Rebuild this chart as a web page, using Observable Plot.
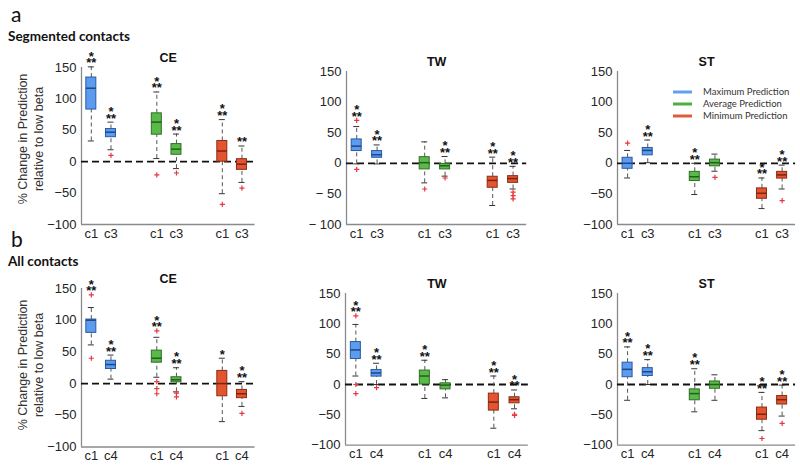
<!DOCTYPE html>
<html><head><meta charset="utf-8">
<script src="https://cdn.jsdelivr.net/npm/d3@7"></script>
<script src="https://cdn.jsdelivr.net/npm/@observablehq/plot@0.6"></script>
<style>
body{margin:0;background:#fff;}
#chart{position:relative;width:800px;height:471px;overflow:hidden;background:#fff;}
#chart svg{position:absolute;overflow:visible;}
</style></head><body><div id="chart"></div>
<script>
// ---------- data ----------
const series = ["Maximum Prediction", "Average Prediction", "Minimum Prediction"];
const panelTitles = ["CE", "TW", "ST"];
const rowTitles = ["Segmented contacts", "All contacts"];
const rowLetters = ["a", "b"];
const tickLabelsA = ["c1", "c3"];
const tickLabelsB = ["c1", "c4"];
const positions = [1, 1.3, 2, 2.3, 3, 3.3];
const yTicks = [-100, -50, 0, 50, 100, 150];
const yLabel = ["% Change in Prediction", "relative to low beta"];

// box stats per box: [lower whisker, q1, median, q3, upper whisker]
const statsACE = [[33, 83, 117, 134, 151], [19, 39, 47, 52, 63], [5, 43, 63, 77, 111], [-11, 11, 20, 28, 44], [-51, 0, 17, 33, 67], [-33, -13, -4, 4, 25]];
const outACE = [[], [10], [-21], [-18], [-68], [-42]];
const sigACE = ["***", "***", "***", "***", "***", "**"];

const statsATW = [[-1, 20, 28, 39, 60], [-1, 9, 14, 20, 30], [-32, -10, 1, 10, 35], [-21, -10, -4, -1, 11], [-69, -40, -28, -22, 10], [-42, -32, -25, -21, -5]];
const outATW = [[70, -10], [], [-42], [-24], [], [-47, -53, -58]];
const sigATW = ["***", "***", "", "***", "***", "***"];

const statsAST = [[-24, -9, 0, 9, 21], [1, 13, 21, 25, 38], [-51, -29, -22, -14, 0], [-13, -5, 1, 6, 15], [-74, -58, -49, -41, -24], [-42, -25, -19, -14, -3]];
const outAST = [[33], [], [], [-23], [], [-61]];
const sigAST = ["", "***", "***", "", "***", "***"];

const statsBCE = [[61, 80, 100, 101, 120], [7, 23, 30, 36, 45], [10, 33, 40, 52, 73], [-13, 2, 6, 10, 25], [-60, -20, 0, 20, 40], [-36, -23, -16, -10, 3]];
const outBCE = [[140, 40], [], [83, 3, -8, -16], [-15, -21], [], [-47]];
const sigBCE = ["***", "***", "***", "***", "*", "***"];

const statsBTW = [[14, 42, 57, 70, 99], [0, 13, 19, 24, 35], [-23, 0, 14, 23, 40], [-22, -8, -1, 2, 8], [-72, -43, -29, -15, 14], [-40, -31, -25, -21, -9]];
const outBTW = [[113, 0, -15], [-5], [], [], [], [-49, -51]];
const sigBTW = ["***", "***", "***", "", "***", "***"];

const statsBST = [[-26, 12, 25, 36, 62], [0, 14, 21, 27, 41], [-45, -26, -15, -8, 26], [-26, -7, 0, 5, 16], [-76, -58, -49, -38, -13], [-52, -33, -25, -19, -1]];
const outBST = [[], [], [], [], [-89], [-64]];
const sigBST = ["***", "***", "***", "", "***", "***"];

// ---------- styles ----------
const fillOf = ["#5b9cf0", "#5ab948", "#e4542f"];
const edgeOf = ["#2b5a9e", "#2f6f27", "#8a2d17"];
const medOf = ["#1e4785", "#24601d", "#7a2410"];
const legendColor = ["#62a0ec", "#4fae40", "#e35a3a"];
const xDomain = [0.85, 3.5];
const FONT = '"Liberation Sans", Arial, sans-serif';

const plusSym = {draw(ctx, size) {
  const r = Math.sqrt(size / Math.PI);
  ctx.moveTo(-r, 0); ctx.lineTo(r, 0); ctx.moveTo(0, -r); ctx.lineTo(0, r);
}};

const panels = [
  {stats: statsACE, outs: outACE, sigs: sigACE, ticks: tickLabelsA, title: panelTitles[0], left: 81, top: 66.5, bottom: 223.5, unit: 65.5, spaced: false},
  {stats: statsATW, outs: outATW, sigs: sigATW, ticks: tickLabelsA, title: panelTitles[1], left: 346, top: 71, bottom: 224, unit: 68, spaced: true},
  {stats: statsAST, outs: outAST, sigs: sigAST, ticks: tickLabelsA, title: panelTitles[2], left: 616.5, top: 71, bottom: 224, unit: 67.2, spaced: false},
  {stats: statsBCE, outs: outBCE, sigs: sigBCE, ticks: tickLabelsB, title: panelTitles[0], left: 81, top: 287.5, bottom: 446, unit: 65.5, spaced: false},
  {stats: statsBTW, outs: outBTW, sigs: sigBTW, ticks: tickLabelsB, title: panelTitles[1], left: 344.5, top: 293.3, bottom: 445, unit: 69, spaced: false},
  {stats: statsBST, outs: outBST, sigs: sigBST, ticks: tickLabelsB, title: panelTitles[2], left: 616.5, top: 293.3, bottom: 445, unit: 67.2, spaced: false}
];

const root = document.getElementById("chart");
const starText = s => s === "***" ? "*\n**" : s;

function drawPanel(p) {
  const mL = 42, mR = 8, mT = 34, mB = 26;
  const plotW = (xDomain[1] - xDomain[0]) * p.unit;
  const plotH = p.bottom - p.top;
  const hw = 5 / p.unit, cw = 3 / p.unit;
  const boxes = p.stats.map((s, i) => ({
    x: positions[i], lo: s[0], q1: s[1], med: s[2], q3: s[3], hi: s[4],
    g: Math.floor(i / 2), top: Math.max(s[4], ...p.outs[i]), sig: p.sigs[i]
  }));
  const outl = p.outs.flatMap((o, i) => o.map(v => ({x: positions[i], y: v})));
  const fmtY = d => d < 0 ? (p.spaced ? "\u2212 " : "\u2212") + Math.abs(d) : String(d);
  const fmtX = d => p.ticks[positions.indexOf(d) % 2];
  const svg = Plot.plot({
    width: mL + plotW + mR, height: mT + plotH + mB,
    marginLeft: mL, marginRight: mR, marginTop: mT, marginBottom: mB,
    style: {fontFamily: FONT, background: "transparent", overflow: "visible"},
    x: {domain: xDomain},
    y: {domain: [-100, 150]},
    color: {type: "identity"},
    marks: [
      Plot.ruleX([xDomain[0]], {stroke: "#8a8a8a", strokeWidth: 1.3}),
      Plot.ruleY([-100], {stroke: "#8a8a8a", strokeWidth: 1.3}),
      Plot.axisY({ticks: yTicks, tickSize: 0, tickPadding: 5, tickFormat: fmtY, fontSize: 13, color: "#262626", label: null}),
      Plot.axisX({ticks: positions, tickSize: 0, tickPadding: 4, tickFormat: fmtX, fontSize: 13, color: "#262626", label: null}),
      Plot.ruleY([0], {stroke: "#111", strokeWidth: 1.8, strokeDasharray: "7,4"}),
      Plot.ruleX(boxes, {x: "x", y1: "q3", y2: "hi", stroke: "#555", strokeDasharray: "4,3"}),
      Plot.ruleX(boxes, {x: "x", y1: "lo", y2: "q1", stroke: "#555", strokeDasharray: "4,3"}),
      Plot.ruleY(boxes, {y: "hi", x1: d => d.x - cw, x2: d => d.x + cw, stroke: "#333"}),
      Plot.ruleY(boxes, {y: "lo", x1: d => d.x - cw, x2: d => d.x + cw, stroke: "#333"}),
      Plot.rect(boxes, {x1: d => d.x - hw, x2: d => d.x + hw, y1: "q1", y2: "q3", fill: d => fillOf[d.g], stroke: d => edgeOf[d.g], strokeWidth: 1}),
      Plot.ruleY(boxes, {y: "med", x1: d => d.x - hw, x2: d => d.x + hw, stroke: d => medOf[d.g], strokeWidth: 1.5}),
      Plot.dot(outl, {x: "x", y: "y", symbol: plusSym, r: 2.6, stroke: "#e8383d", fill: "none", strokeWidth: 1.2}),
      Plot.text(boxes.filter(d => d.sig), {x: "x", y: "top", text: d => starText(d.sig), lineAnchor: "bottom", lineHeight: 0.52, dy: 0.5, fontSize: 13, fontWeight: "bold", fill: "#111"}),
      Plot.text([p.title], {frameAnchor: "top", lineAnchor: "middle", dy: -9.5, fontSize: 12.5, fontWeight: "bold", fill: "#111"})
    ]
  });
  svg.style.left = (p.left - mL) + "px";
  svg.style.top = (p.top - mT) + "px";
  root.appendChild(svg);
}
panels.forEach(drawPanel);

// ---------- overlay: headings, y label, legend ----------
const ov = d3.select(root).append("svg").attr("width", 800).attr("height", 471)
  .style("left", "0px").style("top", "0px").style("pointer-events", "none");
const headY = [[22, 40.5], [247, 266]];
rowLetters.forEach((l, r) => {
  ov.append("text").attr("x", 11).attr("y", headY[r][0]).text(l)
    .attr("font-family", "Lato, sans-serif").attr("font-size", 21).attr("fill", "#111");
  ov.append("text").attr("x", 8).attr("y", headY[r][1]).text(rowTitles[r])
    .attr("font-family", "Lato, sans-serif").attr("font-size", 13.5).attr("font-weight", "bold").attr("fill", "#111");
});
const yLabCenters = [139, 365];
yLabCenters.forEach(cy => {
  yLabel.forEach((t, k) => {
    ov.append("text").attr("transform", `translate(${23 + k * 15.5},${cy}) rotate(-90)`)
      .attr("text-anchor", "middle").attr("dy", "0.35em").text(t)
      .attr("font-family", FONT).attr("font-size", 12.5).attr("fill", "#333");
  });
});
const legY = [92, 104, 116];
series.forEach((s, i) => {
  ov.append("line").attr("x1", 673).attr("x2", 692).attr("y1", legY[i]).attr("y2", legY[i])
    .attr("stroke", legendColor[i]).attr("stroke-width", 3);
  ov.append("text").attr("x", 703).attr("y", legY[i]).attr("dy", "0.35em").text(s)
    .attr("font-family", "Lato, sans-serif").attr("font-size", 9.5).attr("fill", "#333");
});
</script></body></html>
